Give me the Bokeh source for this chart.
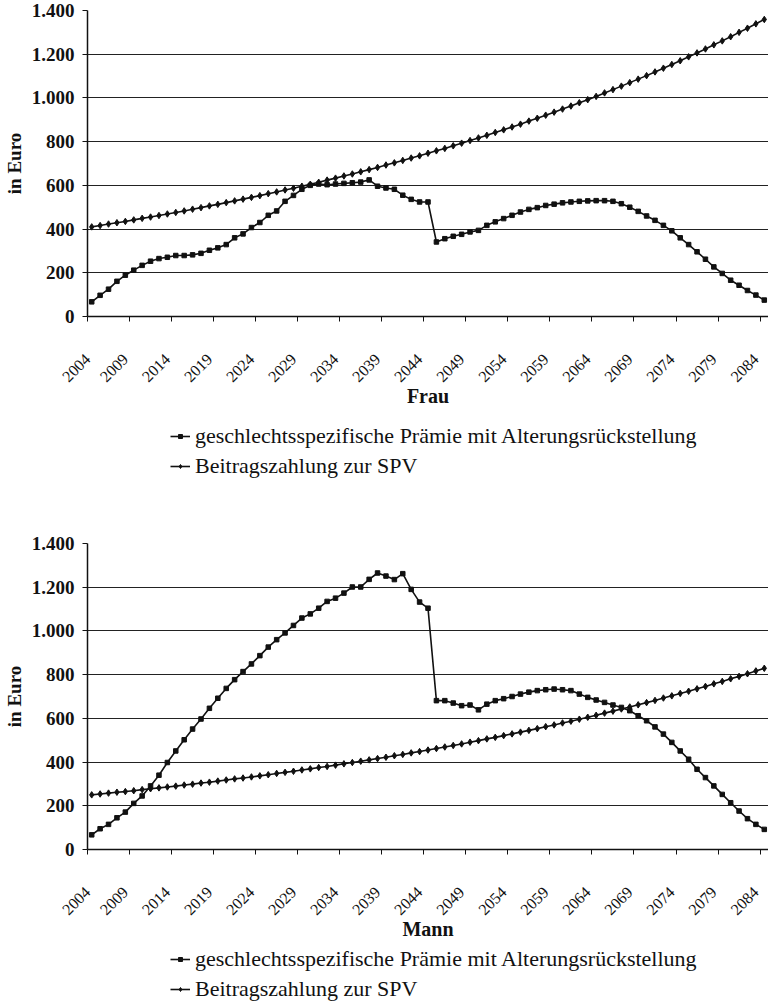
import math
from bokeh.plotting import figure
from bokeh.layouts import column
from bokeh.models import FixedTicker, Legend, LegendItem, LinearAxis
from bokeh.embed import file_html
from bokeh.resources import INLINE

# ---------------- data ----------------
years = list(range(2004, 2085))

frau_praemie = [67, 97, 125, 161, 189, 212, 234, 253, 265, 271,
                279, 279, 282, 289, 303, 314, 329, 360, 378, 407,
                430, 463, 483, 527, 554, 582, 600, 606, 603, 606,
                609, 612, 615, 625, 596, 588, 582, 555, 536, 524,
                524, 341, 356, 367, 376, 387, 394, 417, 433, 448,
                463, 478, 490, 498, 508, 514, 520, 524, 527, 529,
                530, 530, 527, 516, 500, 481, 460, 440, 417, 392,
                360, 329, 296, 262, 227, 197, 166, 143, 119, 98, 75]

frau_spv = [410, 416, 423, 429, 435, 442, 449, 455, 462, 469,
            476, 483, 491, 498, 506, 513, 521, 529, 537, 545,
            553, 562, 570, 579, 587, 596, 605, 614, 624, 633,
            643, 652, 662, 672, 682, 693, 703, 714, 725, 735,
            747, 758, 769, 781, 793, 805, 817, 829, 842, 854,
            867, 880, 894, 907, 921, 935, 949, 963, 978, 992,
            1007, 1023, 1038, 1054, 1070, 1086, 1102, 1119, 1136, 1153,
            1170, 1188, 1206, 1224, 1243, 1261, 1280, 1300, 1319, 1339, 1359]

mann_praemie = [67, 95, 115, 145, 171, 211, 245, 291, 340, 398,
                451, 502, 551, 597, 646, 692, 737, 777, 814, 849,
                887, 926, 960, 991, 1025, 1059, 1078, 1104, 1135, 1150,
                1173, 1201, 1201, 1236, 1265, 1251, 1235, 1262, 1190, 1132,
                1104, 681, 681, 670, 658, 661, 639, 665, 681, 690,
                700, 711, 720, 727, 731, 734, 731, 727, 711, 696,
                684, 673, 661, 650, 635, 612, 589, 561, 528, 490,
                451, 413, 367, 329, 291, 252, 214, 176, 141, 115, 92]

mann_spv = [250, 254, 258, 262, 265, 269, 274, 278, 282, 286,
            290, 295, 299, 304, 308, 313, 318, 323, 327, 332,
            337, 342, 348, 353, 358, 364, 369, 375, 380, 386,
            392, 398, 404, 410, 416, 422, 429, 435, 442, 448,
            455, 462, 469, 476, 483, 491, 498, 506, 513, 521,
            529, 537, 545, 553, 562, 570, 579, 587, 596, 605,
            614, 624, 633, 643, 652, 662, 672, 682, 693, 703,
            714, 724, 735, 746, 758, 769, 781, 792, 804, 817, 829]

x_tick_labels = ["2004", "2009", "2014", "2019", "2024", "2029", "2034", "2039", "2044",
                 "2049", "2054", "2059", "2064", "2069", "2074", "2079", "2084"]
y_ticks = [0, 200, 400, 600, 800, 1000, 1200, 1400]
y_tick_labels = ["0", "200", "400", "600", "800", "1.000", "1.200", "1.400"]
series_names = ["geschlechtsspezifische Prämie mit Alterungsrückstellung",
                "Beitragszahlung zur SPV"]
chart_titles = ["Frau", "Mann"]

FONT = "Liberation Serif"
INK = "#111111"
W = 766
X0, X1 = 2003.5, 2084.5


def style_series(p, xs, a, b):
    l1 = p.line(xs, a, line_color=INK, line_width=1.6)
    s1 = p.scatter(xs, a, marker="square", size=4.5, fill_color=INK, line_color=INK)
    l2 = p.line(xs, b, line_color=INK, line_width=1.6)
    s2 = p.scatter(xs, b, marker="diamond", size=6.5, fill_color=INK, line_color=INK)
    return (l1, s1), (l2, s2)


def make_chart(title, praemie, spv, top_border, bottom_border):
    p = figure(frame_width=681, frame_height=306,
               x_range=(X0, X1), y_range=(0, 1400),
               output_backend="svg", toolbar_location=None,
               min_border_left=85, min_border_right=0,
               min_border_top=top_border, min_border_bottom=bottom_border)
    p.outline_line_color = None
    p.background_fill_color = "white"
    p.border_fill_color = "white"

    # x axis 1: tick marks at the category boundaries
    xt = [int(l) - 0.5 for l in x_tick_labels]
    p.xaxis.ticker = FixedTicker(ticks=xt, minor_ticks=[])
    p.xaxis.major_label_overrides = {t: "" for t in xt}
    p.xaxis.major_label_text_font_size = "0px"
    p.xaxis.major_label_standoff = 0
    p.xaxis.major_tick_out = 5
    p.xaxis.major_tick_in = 0
    p.xaxis.major_tick_line_color = INK
    p.xaxis.axis_line_color = INK
    p.xaxis.axis_line_width = 1.5

    # x axis 2: rotated year labels, ending just left of their tick mark
    xl = [max(int(l) - 1.0, X0) for l in x_tick_labels]
    lab_axis = LinearAxis(ticker=FixedTicker(ticks=xl, minor_ticks=[]),
                          major_label_overrides={t: l for t, l in zip(xl, x_tick_labels)},
                          major_label_orientation=math.pi / 4,
                          major_label_text_font=FONT,
                          major_label_text_font_size="16px",
                          major_label_text_color=INK,
                          major_label_standoff=35,
                          major_tick_out=0, major_tick_in=0,
                          major_tick_line_color=None, minor_tick_line_color=None,
                          axis_line_color=None,
                          axis_label=title, axis_label_text_font=FONT,
                          axis_label_text_font_style="bold",
                          axis_label_text_font_size="20px",
                          axis_label_text_color=INK,
                          axis_label_standoff=-5)
    p.add_layout(lab_axis, "below")

    # y axis
    p.yaxis.ticker = FixedTicker(ticks=y_ticks, minor_ticks=[])
    p.yaxis.major_label_overrides = {t: l for t, l in zip(y_ticks, y_tick_labels)}
    p.yaxis.major_label_text_font = FONT
    p.yaxis.major_label_text_font_style = "bold"
    p.yaxis.major_label_text_font_size = "19px"
    p.yaxis.major_label_text_color = INK
    p.yaxis.major_label_standoff = 8
    p.yaxis.major_tick_out = 5
    p.yaxis.major_tick_in = 0
    p.yaxis.major_tick_line_color = INK
    p.yaxis.axis_line_color = INK
    p.yaxis.axis_line_width = 1.5
    p.yaxis.axis_label = "in Euro"
    p.yaxis.axis_label_text_font = FONT
    p.yaxis.axis_label_text_font_style = "bold"
    p.yaxis.axis_label_text_font_size = "19px"
    p.yaxis.axis_label_text_color = INK
    p.yaxis.axis_label_standoff = 4

    p.xgrid.visible = False
    p.ygrid.ticker = FixedTicker(ticks=y_ticks, minor_ticks=[])
    p.ygrid.grid_line_color = "#222222"
    p.ygrid.grid_line_width = 1

    style_series(p, years, praemie, spv)
    return p


def make_legend(praemie, spv, height, vy):
    # strip below each chart that holds its legend; the series are drawn
    # here too, but entirely outside this strip's ranges (nothing visible)
    q = figure(width=W, height=height, x_range=(0, 1), y_range=(0, 1),
               x_axis_type=None, y_axis_type=None,
               output_backend="svg", toolbar_location=None,
               min_border=0, min_border_left=0, min_border_right=0,
               min_border_top=0, min_border_bottom=0)
    q.outline_line_color = None
    q.background_fill_color = "white"
    q.border_fill_color = "white"
    q.xgrid.visible = False
    q.ygrid.visible = False
    (l1, s1), (l2, s2) = style_series(q, years, praemie, spv)
    legend = Legend(items=[LegendItem(label=series_names[0], renderers=[l1, s1]),
                           LegendItem(label=series_names[1], renderers=[l2, s2])],
                    location=(83, vy), orientation="vertical",
                    border_line_color=None, background_fill_alpha=0,
                    label_text_font=FONT, label_text_font_size="22px",
                    label_text_color=INK, label_standoff=5,
                    glyph_width=20, glyph_height=10, label_height=24,
                    spacing=4, padding=0, margin=0)
    q.add_layout(legend, "center")
    return q


p1 = make_chart(chart_titles[0], frau_praemie, frau_spv, 10, 104)
g1 = make_legend(frau_praemie, frau_spv, 113, 54)
p2 = make_chart(chart_titles[1], mann_praemie, mann_spv, 10, 96)
g2 = make_legend(mann_praemie, mann_spv, 57, 0)

layout = column(p1, g1, p2, g2, spacing=0)
open("out.html", "w").write(file_html(layout, INLINE))
